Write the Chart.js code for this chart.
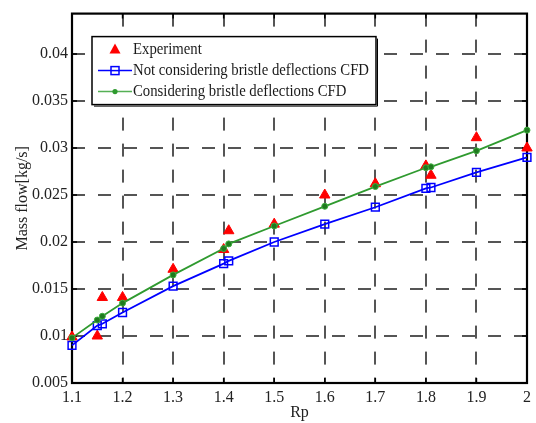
<!DOCTYPE html>
<html>
<head>
<meta charset="utf-8">
<script src="https://cdn.jsdelivr.net/npm/chart.js@4/dist/chart.umd.min.js"></script>
<style>
  body { margin: 0; background: #fff; }
  canvas { display: block; }
</style>
</head>
<body>
<canvas id="massChart" width="536" height="423"></canvas>
<script>
// Rp values and mass flow readings (kg/s)
const rpCfd = [1.1, 1.15, 1.16, 1.2, 1.3, 1.4, 1.41, 1.5, 1.6, 1.7, 1.8, 1.81, 1.9, 2.0];
const notConsidering = [0.0090, 0.0111, 0.0113, 0.0125, 0.0153, 0.0177, 0.0180, 0.0200, 0.0219, 0.0237, 0.0257, 0.0258, 0.0274, 0.0290];
const considering = [0.0098, 0.0117, 0.0121, 0.0135, 0.0165, 0.0193, 0.0198, 0.0217, 0.0238, 0.0259, 0.0279, 0.0280, 0.0297, 0.0319];

const rpExp = [1.1, 1.15, 1.16, 1.2, 1.3, 1.4, 1.41, 1.5, 1.6, 1.7, 1.8, 1.81, 1.9, 2.0];
const experiment = [0.0099, 0.0100, 0.0141, 0.0141, 0.0171, 0.0192, 0.0212, 0.0219, 0.0250, 0.0262, 0.0281, 0.0271, 0.0311, 0.0300];

const xTicks = [1.1, 1.2, 1.3, 1.4, 1.5, 1.6, 1.7, 1.8, 1.9, 2.0];
const xTickLabels = ['1.1', '1.2', '1.3', '1.4', '1.5', '1.6', '1.7', '1.8', '1.9', '2'];
const yTicks = [0.005, 0.01, 0.015, 0.02, 0.025, 0.03, 0.035, 0.04];
const yTickLabels = ['0.005', '0.01', '0.015', '0.02', '0.025', '0.03', '0.035', '0.04'];

const legendLabels = ['Experiment', 'Not considering bristle deflections CFD', 'Considering bristle deflections CFD'];

const RED = '#ff0000';
const BLUE = '#0000ff';
const GREEN = '#2f9a2f';
const FONT = "'Liberation Serif', 'DejaVu Serif', serif";

function pairs(xs, ys) {
    return xs.map((x, i) => ({ x: x, y: ys[i] }));
}

// frame round the plot with inward tick marks (matlab look)
const framePlugin = {
    id: 'frame',
    beforeDatasetsDraw(chart) {
        const { ctx, chartArea: a, scales } = chart;
        ctx.save();
        ctx.strokeStyle = '#000';
        ctx.lineWidth = 1.5;
        ctx.beginPath();
        xTicks.forEach(v => {
            const px = scales.x.getPixelForValue(v);
            ctx.moveTo(px, a.bottom); ctx.lineTo(px, a.bottom - 5);
            ctx.moveTo(px, a.top); ctx.lineTo(px, a.top + 5);
        });
        yTicks.forEach(v => {
            const py = scales.y.getPixelForValue(v);
            ctx.moveTo(a.left, py); ctx.lineTo(a.left + 5, py);
            ctx.moveTo(a.right, py); ctx.lineTo(a.right - 5, py);
        });
        ctx.stroke();
        ctx.lineWidth = 2.2;
        ctx.strokeRect(a.left, a.top, a.right - a.left, a.bottom - a.top);
        ctx.restore();
    }
};

// legend box inside the plot, upper left
const legendPlugin = {
    id: 'boxLegend',
    afterDraw(chart) {
        const { ctx, chartArea: a } = chart;
        const bx = a.left + 20, by = a.top + 23, bw = 284, bh = 68;
        ctx.save();
        ctx.fillStyle = '#fff';
        ctx.fillRect(bx, by, bw, bh);
        ctx.strokeStyle = '#000';
        ctx.lineWidth = 1.5;
        ctx.strokeRect(bx, by, bw, bh);
        ctx.lineWidth = 1;
        ctx.beginPath();
        ctx.moveTo(bx + bw + 1.5, by + 2); ctx.lineTo(bx + bw + 1.5, by + bh + 1.5); ctx.lineTo(bx + 2, by + bh + 1.5);
        ctx.stroke();

        const rowY = [by + 13, by + 34, by + 55];
        const sx0 = bx + 6, sx1 = bx + 40, mx = bx + 23;

        // experiment marker
        ctx.fillStyle = RED;
        ctx.beginPath();
        ctx.moveTo(mx, rowY[0] - 6); ctx.lineTo(mx + 5.5, rowY[0] + 4); ctx.lineTo(mx - 5.5, rowY[0] + 4);
        ctx.closePath();
        ctx.fill();

        // blue sample
        ctx.strokeStyle = BLUE;
        ctx.lineWidth = 1.5;
        ctx.beginPath();
        ctx.moveTo(sx0, rowY[1]); ctx.lineTo(sx1, rowY[1]);
        ctx.stroke();
        ctx.fillStyle = '#fff';
        ctx.fillRect(mx - 4, rowY[1] - 4, 8, 8);
        ctx.strokeRect(mx - 4, rowY[1] - 4, 8, 8);
        ctx.beginPath();
        ctx.moveTo(mx - 4, rowY[1]); ctx.lineTo(mx + 4, rowY[1]);
        ctx.stroke();

        // green sample
        ctx.strokeStyle = '#55b055';
        ctx.beginPath();
        ctx.moveTo(sx0, rowY[2]); ctx.lineTo(sx1, rowY[2]);
        ctx.stroke();
        ctx.fillStyle = GREEN;
        ctx.beginPath();
        ctx.arc(mx, rowY[2], 2.6, 0, Math.PI * 2);
        ctx.fill();

        // labels, squeezed a little like the original
        ctx.fillStyle = '#1a1a1a';
        ctx.font = '16px ' + FONT;
        ctx.textBaseline = 'middle';
        const longest = ctx.measureText(legendLabels[1]).width;
        const sx = Math.min(1, 236 / longest);
        legendLabels.forEach((t, i) => {
            ctx.save();
            ctx.translate(bx + 41, rowY[i]);
            ctx.scale(sx, 1);
            ctx.fillText(t, 0, 0);
            ctx.restore();
        });
        ctx.restore();
    }
};

const gridStyle = {
    color: 'rgba(55,55,55,0.85)',
    lineWidth: 2,
    drawTicks: false
};

new Chart(document.getElementById('massChart'), {
    type: 'scatter',
    data: {
        datasets: [
            {
                label: legendLabels[0],
                data: pairs(rpExp, experiment),
                showLine: false,
                clip: false,
                pointStyle: 'triangle',
                pointRadius: 6,
                pointBackgroundColor: RED,
                pointBorderColor: RED,
                pointBorderWidth: 1,
                order: 3
            },
            {
                label: legendLabels[1],
                data: pairs(rpCfd, notConsidering),
                showLine: true,
                clip: false,
                borderColor: BLUE,
                borderWidth: 1.8,
                pointStyle: 'rect',
                pointRadius: 5.5,
                pointBackgroundColor: 'rgba(255,255,255,0)',
                pointBorderColor: BLUE,
                pointBorderWidth: 1.5,
                order: 2
            },
            {
                label: legendLabels[2],
                data: pairs(rpCfd, considering),
                showLine: true,
                clip: false,
                borderColor: GREEN,
                borderWidth: 1.8,
                pointStyle: 'circle',
                pointRadius: 3,
                pointBackgroundColor: '#1f7a1f',
                pointBorderColor: '#3fae3f',
                pointBorderWidth: 1,
                order: 1
            }
        ]
    },
    options: {
        responsive: false,
        animation: false,
        devicePixelRatio: 1,
        layout: { padding: { top: 11, right: 8, left: 0, bottom: 0 } },
        plugins: {
            legend: { display: false },
            tooltip: { enabled: false }
        },
        scales: {
            x: {
                type: 'linear',
                min: 1.1,
                max: 2.0,
                afterBuildTicks: s => { s.ticks = xTicks.map(v => ({ value: v })); },
                afterFit: s => { s.height = 40; },
                grid: gridStyle,
                border: { display: false, dash: [13, 13] },
                ticks: {
                    padding: 5,
                    color: '#222',
                    font: { family: FONT, size: 16 },
                    callback: (v) => xTickLabels[xTicks.findIndex(t => Math.abs(t - v) < 1e-9)]
                },
                title: {
                    display: true,
                    text: 'Rp',
                    color: '#222',
                    font: { family: FONT, size: 16 },
                    padding: { top: 0, bottom: 1 }
                }
            },
            y: {
                type: 'linear',
                min: 0.005,
                max: 0.0443,
                afterBuildTicks: s => { s.ticks = yTicks.map(v => ({ value: v })); },
                afterFit: s => { s.width = 72; },
                grid: gridStyle,
                border: { display: false, dash: [13, 13] },
                ticks: {
                    padding: 4,
                    color: '#222',
                    font: { family: FONT, size: 16 },
                    callback: (v) => yTickLabels[yTicks.findIndex(t => Math.abs(t - v) < 1e-9)]
                },
                title: {
                    display: true,
                    text: 'Mass flow[kg/s]',
                    color: '#222',
                    font: { family: FONT, size: 16 },
                    padding: { top: 13, bottom: 0 }
                }
            }
        }
    },
    plugins: [framePlugin, legendPlugin]
});
</script>
</body>
</html>
